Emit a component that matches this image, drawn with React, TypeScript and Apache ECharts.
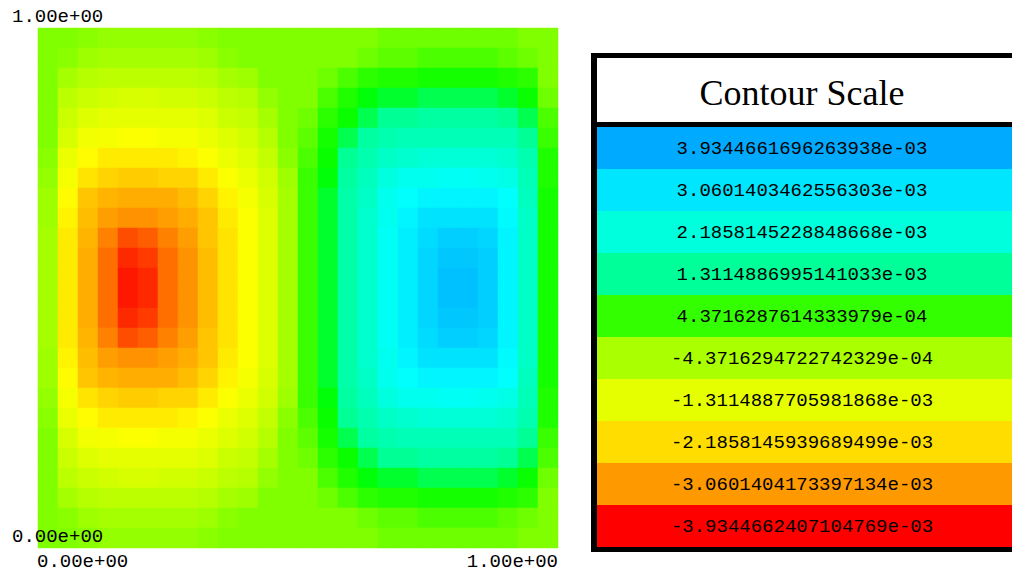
import React, { useEffect, useRef } from "react";
import * as echarts from "echarts";

// Axis tick labels (domain corners)
const X_TICK_LABELS = ["0.00e+00", "1.00e+00"];
const Y_TICK_LABELS = ["0.00e+00", "1.00e+00"];

// Contour scale legend
const LEGEND_TITLE = "Contour Scale";
const LEGEND_LABELS = [
  "3.9344661696263938e-03",
  "3.0601403462556303e-03",
  "2.1858145228848668e-03",
  "1.3114886995141033e-03",
  "4.3716287614333979e-04",
  "-4.3716294722742329e-04",
  "-1.3114887705981868e-03",
  "-2.1858145939689499e-03",
  "-3.0601404173397134e-03",
  "-3.9344662407104769e-03",
];
const VALUE_MIN = -3.9344662407104769e-3;
const VALUE_MAX = 3.9344661696263938e-3;

// Field values, in units of 1e-4, rows from top (y=1) to bottom (y=0)
const FIELD_UNIT = 1e-4;
const FIELD_ROWS: number[][] = [
  [0, 0, -1, -2, -2, -2, -2, -2, -1, 0, 0, 0, 0, 0, 0, 0, 0, 1, 1, 1, 1, 1, 1, 1, 0, 0],
  [0, -1, -3, -4, -4, -4, -4, -4, -3, -1, 0, 0, 0, 0, 0, 0, 1, 2, 2, 3, 3, 3, 3, 2, 1, 0],
  [0, -4, -6, -7, -7, -7, -7, -7, -6, -4, -3, 0, 0, 0, 1, 3, 5, 6, 6, 7, 7, 7, 7, 6, 5, 0],
  [0, -7, -9, -10, -11, -11, -10, -10, -9, -7, -6, -2, 0, 0, 3, 6, 9, 10, 10, 11, 11, 11, 11, 10, 8, 1],
  [0, -9, -12, -13, -13, -13, -13, -13, -12, -9, -8, -4, 0, 1, 5, 8, 11, 13, 13, 14, 14, 14, 14, 13, 11, 3],
  [0, -11, -15, -16, -17, -17, -16, -16, -14, -12, -10, -6, 0, 2, 7, 11, 14, 16, 17, 17, 17, 17, 17, 17, 13, 4],
  [-1, -14, -18, -20, -20, -20, -20, -19, -17, -14, -12, -8, -1, 3, 8, 13, 16, 19, 20, 21, 21, 21, 21, 20, 16, 6],
  [-2, -16, -21, -23, -24, -24, -23, -23, -20, -17, -14, -10, -3, 4, 9, 14, 18, 22, 24, 24, 25, 25, 24, 23, 17, 6],
  [-3, -18, -25, -27, -28, -28, -28, -26, -23, -19, -16, -11, -4, 4, 10, 15, 19, 24, 26, 28, 28, 28, 28, 26, 18, 7],
  [-3, -19, -26, -30, -31, -31, -30, -28, -25, -20, -17, -12, -4, 4, 10, 15, 20, 24, 28, 31, 31, 31, 31, 27, 19, 7],
  [-4, -20, -27, -32, -35, -34, -32, -30, -25, -21, -17, -12, -4, 4, 10, 15, 20, 25, 29, 32, 34, 34, 33, 28, 19, 7],
  [-4, -20, -28, -33, -37, -36, -33, -31, -26, -21, -17, -12, -4, 4, 10, 15, 20, 25, 29, 33, 35, 35, 34, 28, 19, 7],
  [-4, -20, -28, -33, -38, -37, -33, -31, -26, -21, -17, -12, -4, 4, 10, 15, 20, 25, 29, 33, 36, 36, 34, 28, 19, 7],
  [-4, -20, -28, -33, -38, -37, -33, -31, -26, -21, -17, -12, -4, 4, 10, 15, 20, 25, 29, 33, 36, 36, 34, 28, 19, 7],
  [-4, -20, -28, -33, -37, -36, -33, -31, -26, -21, -17, -12, -4, 4, 10, 15, 20, 25, 29, 33, 35, 35, 34, 28, 19, 7],
  [-4, -20, -27, -32, -35, -34, -32, -30, -25, -21, -17, -12, -4, 4, 10, 15, 20, 25, 29, 32, 34, 34, 33, 28, 19, 7],
  [-3, -19, -26, -30, -31, -31, -30, -28, -25, -20, -17, -12, -4, 4, 10, 15, 20, 24, 28, 31, 31, 31, 31, 27, 19, 7],
  [-3, -18, -25, -27, -28, -28, -28, -26, -23, -19, -16, -11, -4, 4, 10, 15, 19, 24, 26, 28, 28, 28, 28, 26, 18, 7],
  [-2, -16, -21, -23, -24, -24, -23, -23, -20, -17, -14, -10, -3, 4, 9, 14, 18, 22, 24, 24, 25, 25, 24, 23, 17, 6],
  [-1, -14, -18, -20, -20, -20, -20, -19, -17, -14, -12, -8, -1, 3, 8, 13, 16, 19, 20, 21, 21, 21, 21, 20, 16, 6],
  [0, -11, -15, -16, -17, -17, -16, -16, -14, -12, -10, -6, 0, 2, 7, 11, 14, 16, 17, 17, 17, 17, 17, 17, 13, 4],
  [0, -9, -12, -13, -13, -13, -13, -13, -12, -9, -8, -4, 0, 1, 5, 8, 11, 13, 13, 14, 14, 14, 14, 13, 11, 3],
  [0, -7, -9, -10, -11, -11, -10, -10, -9, -7, -6, -2, 0, 0, 3, 6, 9, 10, 10, 11, 11, 11, 11, 10, 8, 1],
  [0, -4, -6, -7, -7, -7, -7, -7, -6, -4, -3, 0, 0, 0, 1, 3, 5, 6, 6, 7, 7, 7, 7, 6, 5, 0],
  [0, -1, -3, -4, -4, -4, -4, -4, -3, -1, 0, 0, 0, 0, 0, 0, 1, 2, 2, 3, 3, 3, 3, 2, 1, 0],
  [0, 0, -1, -2, -2, -2, -2, -2, -1, 0, 0, 0, 0, 0, 0, 0, 0, 1, 1, 1, 1, 1, 1, 1, 0, 0],
];

// Colour ramp from min to max (19 evenly spaced stops)
const PALETTE = [
  "#ff0000", "#ff4d00", "#ff9900", "#ffbb00", "#ffdd00", "#ffff00", "#e6ff00",
  "#c8ff00", "#aaff00", "#80ff00", "#33ff00", "#00ff00", "#00ff99", "#00ffbb",
  "#00ffdd", "#00ffff", "#00e6ff", "#00c8ff", "#00aaff",
];

const MONO = "'Liberation Mono', 'DejaVu Sans Mono', monospace";
const SERIF = "'Liberation Serif', 'DejaVu Serif', serif";

function textEl(text: string, x: number, y: number, align: string, size: number, family: string) {
  return {
    type: "text",
    z: 20,
    style: {
      text,
      x,
      y,
      fill: "#000",
      fontSize: size,
      fontFamily: family,
      align,
      verticalAlign: "middle",
      textAlign: align,
      textVerticalAlign: "middle",
    },
  };
}

export default function App() {
  const ref = useRef<HTMLDivElement>(null);

  useEffect(() => {
    const chart = echarts.init(ref.current!, null, { renderer: "svg" });
    const nRows = FIELD_ROWS.length;
    const nCols = FIELD_ROWS[0].length;
    const data: number[][] = [];
    FIELD_ROWS.forEach((row, j) =>
      row.forEach((v, i) => data.push([i, nRows - 1 - j, v * FIELD_UNIT]))
    );

    const legendX = 591;
    const legendTop = 53;
    const rowTop = 127;
    const rowH = 42;
    const legendCenter = 802;

    const graphics: any[] = [];
    // axis labels
    graphics.push(textEl(Y_TICK_LABELS[1], 12, 17, "left", 19, MONO));
    graphics.push(textEl(Y_TICK_LABELS[0], 12, 537, "left", 19, MONO));
    graphics.push(textEl(X_TICK_LABELS[0], 37, 562, "left", 19, MONO));
    graphics.push(textEl(X_TICK_LABELS[1], 558, 562, "right", 19, MONO));

    // legend box
    graphics.push({
      type: "rect",
      z: 10,
      shape: { x: legendX, y: legendTop, width: 440, height: 499 },
      style: { fill: "#000" },
    });
    graphics.push({
      type: "rect",
      z: 11,
      shape: { x: legendX + 6, y: legendTop + 5, width: 420, height: 64 },
      style: { fill: "#fff" },
    });
    graphics.push(textEl(LEGEND_TITLE, legendCenter, 93, "center", 36, SERIF));
    LEGEND_LABELS.forEach((label, k) => {
      const colorIdx = PALETTE.length - 1 - 2 * k;
      graphics.push({
        type: "rect",
        z: 11,
        shape: { x: legendX + 6, y: rowTop + k * rowH, width: 420, height: rowH },
        style: { fill: PALETTE[colorIdx] },
      });
      graphics.push(textEl(label, legendCenter, rowTop + k * rowH + rowH / 2 + 1, "center", 19, MONO));
    });

    chart.setOption({
      animation: false,
      grid: { left: 38, top: 28, width: 520, height: 520, containLabel: false },
      xAxis: {
        type: "category",
        data: Array.from({ length: nCols }, (_, i) => String(i)),
        show: false,
      },
      yAxis: {
        type: "category",
        data: Array.from({ length: nRows }, (_, i) => String(i)),
        show: false,
      },
      visualMap: {
        show: false,
        type: "continuous",
        min: VALUE_MIN,
        max: VALUE_MAX,
        dimension: 2,
        seriesIndex: 0,
        inRange: { color: PALETTE },
      },
      series: [
        {
          type: "heatmap",
          data,
          progressive: 0,
          itemStyle: { borderWidth: 0 },
          emphasis: { disabled: true },
        },
      ],
      graphic: graphics,
    });
    return () => chart.dispose();
  }, []);

  return (
    <div
      ref={ref}
      style={{ position: "fixed", left: 0, top: 0, width: 1012, height: 574, background: "#fff" }}
    />
  );
}
